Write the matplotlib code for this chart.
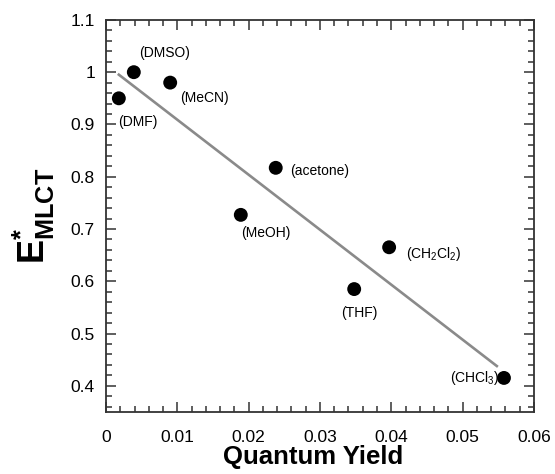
import numpy as np
import matplotlib
matplotlib.use("Agg")
import matplotlib.pyplot as plt
from matplotlib.ticker import MultipleLocator

plt.rcParams['font.family'] = ['Liberation Sans', 'DejaVu Sans']
plt.rcParams['mathtext.fontset'] = 'custom'
plt.rcParams['mathtext.rm'] = 'Liberation Sans'
plt.rcParams['mathtext.bf'] = 'Liberation Sans:bold'
plt.rcParams['mathtext.it'] = 'Liberation Sans:italic'

# Datos
solventes = ["(DMF)", "(DMSO)", "(MeCN)", "(acetone)", "(MeOH)",
             r"(CH$_2$Cl$_2$)", "(THF)", r"(CHCl$_3$)"]
rendimiento = [0.0018, 0.0039, 0.0090, 0.0238, 0.0189, 0.0397, 0.0348, 0.0558]
energia = [0.950, 1.000, 0.980, 0.817, 0.727, 0.665, 0.585, 0.415]

# desplazamientos de etiquetas (pt) y alineacion
offsets = [(-0.5, -17, 'left'), (3.5, 14, 'left'), (7, -11, 'left'),
           (10, -2, 'left'), (0.5, -13, 'left'), (12, -5, 'left'),
           (4, -17, 'center'), (-3.5, 0, 'right')]

fig = plt.figure(figsize=(5.55, 4.74), dpi=100)
ax = fig.add_axes([0.191, 0.131, 0.771, 0.827])

# Ajuste lineal
x = np.array(rendimiento)
y = np.array(energia)
m, b = np.polyfit(x, y, 1)
xl = np.array([x.min(), x.max() - 0.001])
ax.plot(xl, m * xl + b, color='#8a8a8a', lw=1.9, zorder=2)

ax.scatter(x, y, s=100, color='black', zorder=3, edgecolors='none')

for nombre, xi, yi, (dx, dy, ha) in zip(solventes, x, y, offsets):
    ax.annotate(nombre, (xi, yi), xytext=(dx, dy), textcoords='offset points',
                ha=ha, va='center', fontsize=10)

ax.set_xlim(0, 0.06)
ax.set_ylim(0.35, 1.1)
ax.xaxis.set_minor_locator(MultipleLocator(0.002))
ax.yaxis.set_minor_locator(MultipleLocator(0.02))
ax.set_xticks([0, 0.01, 0.02, 0.03, 0.04, 0.05, 0.06])
ax.set_xticklabels(["0", "0.01", "0.02", "0.03", "0.04", "0.05", "0.06"])
ax.set_yticks([0.4, 0.5, 0.6, 0.7, 0.8, 0.9, 1.0, 1.1])
ax.set_yticklabels(["0.4", "0.5", "0.6", "0.7", "0.8", "0.9", "1", "1.1"])

ax.tick_params(which='both', direction='in', top=True, right=True,
               labelsize=12.5, width=1.1, color='#333333')
ax.tick_params(which='major', length=7)
ax.tick_params(axis='y', which='major', pad=8)
ax.tick_params(axis='x', which='major', pad=13)
ax.tick_params(which='minor', length=4)
for s in ax.spines.values():
    s.set_linewidth(1.3)
    s.set_color('#333333')

ax.set_xlabel("Quantum Yield", fontsize=18.5, fontweight='bold')
ax.xaxis.set_label_coords(0.484, -0.085)
ax.set_ylabel(r"$\mathbf{E^{*}_{MLCT}}$", fontsize=26, labelpad=10)

fig.savefig("out.png", dpi=100)
